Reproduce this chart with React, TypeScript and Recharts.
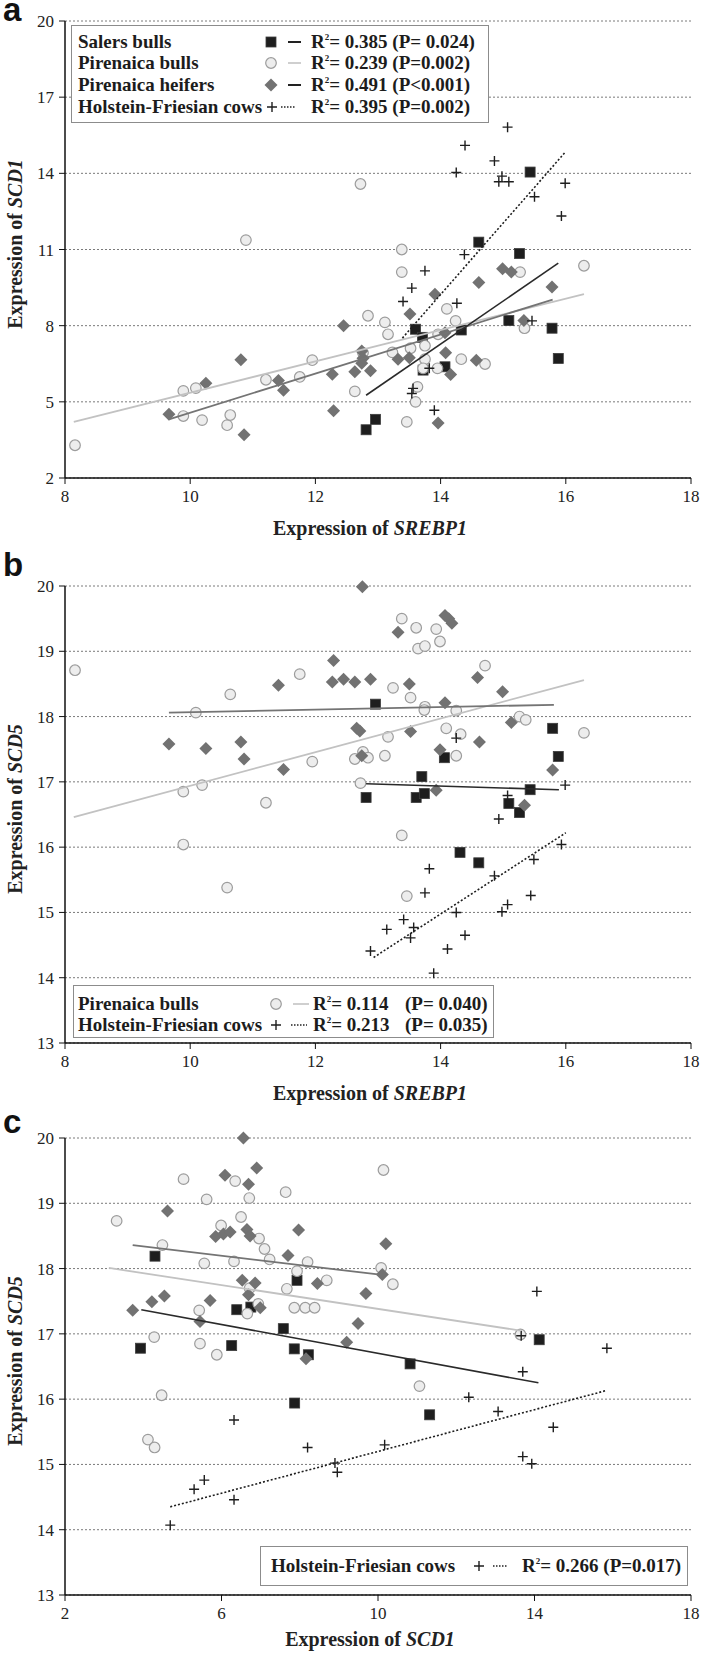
import React from "react";
import { CartesianGrid, Label, Scatter, ScatterChart, XAxis, YAxis } from "recharts";

type Pt = [number, number];

const SERIF = '"Liberation Serif", "Times New Roman", serif';
const SANS = '"Liberation Sans", Arial, sans-serif';

// ---- panel a: SREBP1 (x) vs SCD1 (y)
const A_SALERS: Pt[] = [
  [15.43, 14.05], [14.61, 11.29], [15.26, 10.84], [15.09, 8.2], [13.6, 7.86], [13.71, 7.54],
  [14.33, 7.83], [15.78, 7.9], [15.88, 6.71], [14.07, 6.38], [13.72, 6.25], [12.81, 3.9], [12.96, 4.31],
];
const A_BULLS: Pt[] = [
  [8.16, 3.29], [9.89, 5.43], [10.09, 5.54], [9.89, 4.44], [10.19, 4.28], [10.59, 4.08], [10.64, 4.48],
  [10.89, 11.37], [11.21, 5.87], [11.75, 5.98], [11.95, 6.64], [12.72, 13.58], [12.63, 5.41], [12.84, 8.39],
  [12.76, 6.93], [13.11, 8.13], [13.16, 7.66], [13.23, 6.95], [13.38, 11.0], [13.38, 10.11], [13.52, 7.11],
  [13.46, 4.21], [13.6, 5.0], [13.63, 5.59], [13.75, 7.21], [13.75, 6.68], [13.72, 6.32], [13.96, 7.66],
  [13.95, 6.32], [14.1, 8.66], [14.24, 8.19], [14.33, 6.68], [14.71, 6.49], [15.27, 10.11], [15.34, 7.9],
  [16.29, 10.36],
];
const A_HEIFERS: Pt[] = [
  [9.66, 4.51], [10.25, 5.73], [10.81, 6.66], [10.86, 3.7], [11.41, 5.84], [11.49, 5.46], [12.27, 6.09],
  [12.29, 4.65], [12.45, 8.0], [12.63, 6.18], [12.74, 7.0], [12.74, 6.52], [12.76, 6.72], [12.88, 6.22],
  [13.32, 6.68], [13.5, 6.74], [13.51, 8.46], [13.91, 9.24], [13.96, 4.17], [14.07, 7.72], [14.08, 6.93],
  [14.16, 6.08], [14.61, 9.7], [14.57, 6.64], [14.99, 10.24], [15.13, 10.11], [15.33, 8.2], [15.78, 9.52],
];
const A_COWS: Pt[] = [
  [15.07, 15.82], [14.39, 15.1], [14.86, 14.49], [14.25, 14.03], [14.98, 13.89], [14.93, 13.67],
  [15.09, 13.67], [15.5, 13.08], [15.99, 13.61], [15.93, 12.32], [14.38, 10.8], [13.75, 10.16],
  [13.54, 9.48], [13.4, 8.95], [14.26, 8.88], [15.46, 8.19], [13.82, 6.32], [13.56, 5.53], [13.54, 5.33],
  [13.9, 4.67],
];
const A_FIT_SALERS: Pt[] = [[12.81, 5.26], [15.88, 10.46]];
const A_FIT_BULLS: Pt[] = [[8.14, 4.21], [16.29, 9.24]];
const A_FIT_HEIFERS: Pt[] = [[9.66, 4.31], [15.79, 9.03]];
const A_FIT_COWS: Pt[] = [[13.39, 7.51], [15.98, 14.8]];

// ---- panel b: SREBP1 (x) vs SCD5 (y)
const B_SALERS: Pt[] = [
  [12.96, 18.19], [15.79, 17.82], [15.88, 17.39], [14.06, 17.37], [13.7, 17.08], [12.81, 16.76],
  [13.61, 16.76], [13.74, 16.82], [15.43, 16.88], [15.09, 16.67], [15.26, 16.53], [14.31, 15.92], [14.61, 15.76],
];
const B_BULLS: Pt[] = [
  [8.16, 18.71], [9.89, 16.85], [9.89, 16.04], [10.09, 18.06], [10.19, 16.95], [10.64, 18.34], [10.59, 15.38],
  [11.21, 16.68], [11.75, 18.65], [11.95, 17.31], [12.63, 17.35], [12.76, 17.46], [12.84, 17.37], [12.72, 16.98],
  [13.11, 17.4], [13.16, 17.69], [13.24, 18.44], [13.38, 19.5], [13.38, 16.18], [13.46, 15.25], [13.52, 18.29],
  [13.61, 19.36], [13.64, 19.04], [13.75, 19.08], [13.75, 18.15], [13.74, 18.1], [13.93, 19.34], [13.99, 19.15],
  [14.09, 17.82], [14.25, 18.09], [14.25, 17.4], [14.32, 17.73], [14.71, 18.78], [15.26, 18.0], [15.36, 17.95],
  [16.29, 17.75],
];
const B_HEIFERS: Pt[] = [
  [9.66, 17.58], [10.25, 17.51], [10.81, 17.61], [10.86, 17.35], [11.41, 18.48], [11.49, 17.19], [12.29, 18.86],
  [12.27, 18.53], [12.45, 18.57], [12.63, 18.53], [12.88, 18.57], [12.75, 19.99], [12.66, 17.82], [12.71, 17.78],
  [12.74, 17.4], [13.32, 19.29], [13.5, 18.5], [13.52, 17.77], [13.99, 17.49], [13.93, 16.87], [14.07, 19.55],
  [14.13, 19.5], [14.18, 19.43], [14.07, 18.21], [14.59, 18.6], [14.62, 17.61], [14.99, 18.38], [15.13, 17.91],
  [15.34, 16.64], [15.79, 17.18],
];
const B_COWS: Pt[] = [
  [15.99, 16.95], [15.07, 16.79], [14.25, 17.67], [14.93, 16.43], [15.93, 16.04], [15.49, 15.81], [13.82, 15.67],
  [14.86, 15.56], [13.75, 15.3], [15.44, 15.26], [15.07, 15.12], [14.98, 15.01], [14.25, 15.0], [13.41, 14.89],
  [13.14, 14.74], [13.57, 14.77], [13.52, 14.61], [14.39, 14.65], [14.11, 14.44], [12.88, 14.41], [13.89, 14.07],
];
const B_FIT_SALERS: Pt[] = [[12.81, 16.97], [15.89, 16.88]];
const B_FIT_BULLS: Pt[] = [[8.14, 16.46], [16.29, 18.56]];
const B_FIT_HEIFERS: Pt[] = [[9.66, 18.06], [15.81, 18.18]];
const B_FIT_COWS: Pt[] = [[12.93, 14.31], [16.0, 16.22]];

// ---- panel c: SCD1 (x) vs SCD5 (y)
const C_SALERS: Pt[] = [
  [4.3, 18.19], [7.93, 17.82], [6.39, 17.37], [6.75, 17.41], [7.58, 17.08], [3.93, 16.78], [6.26, 16.82],
  [7.86, 16.77], [8.22, 16.68], [10.82, 16.54], [14.12, 16.91], [7.87, 15.94], [11.32, 15.76],
];
const C_BULLS: Pt[] = [
  [3.32, 18.73], [5.03, 19.37], [6.35, 19.34], [6.71, 19.08], [5.62, 19.06], [7.64, 19.17], [10.14, 19.51],
  [6.5, 18.79], [5.99, 18.66], [4.49, 18.36], [6.96, 18.46], [7.1, 18.3], [7.23, 18.14], [5.56, 18.08],
  [6.32, 18.11], [8.2, 18.1], [7.93, 17.96], [10.08, 18.01], [10.38, 17.76], [8.69, 17.82], [7.67, 17.69],
  [6.72, 17.7], [5.43, 17.36], [6.94, 17.46], [6.66, 17.31], [7.86, 17.4], [8.14, 17.4], [8.38, 17.4],
  [4.28, 16.95], [5.45, 16.85], [5.88, 16.68], [4.47, 16.06], [4.12, 15.38], [4.29, 15.26], [11.06, 16.2],
  [13.64, 16.99],
];
const C_HEIFERS: Pt[] = [
  [3.73, 17.36], [4.22, 17.49], [4.54, 17.58], [4.62, 18.88], [5.45, 17.19], [5.71, 17.51], [5.85, 18.49],
  [6.05, 18.53], [6.22, 18.56], [6.09, 19.43], [6.56, 20.0], [6.69, 19.29], [6.9, 19.54], [6.65, 18.6],
  [6.73, 18.5], [6.53, 17.82], [6.69, 17.6], [6.86, 17.78], [6.99, 17.4], [7.7, 18.2], [7.97, 18.59],
  [8.45, 17.77], [8.16, 16.62], [9.2, 16.87], [9.49, 17.16], [9.69, 17.62], [10.11, 17.91], [10.2, 18.38],
];
const C_COWS: Pt[] = [
  [14.06, 17.65], [13.66, 16.97], [15.85, 16.78], [13.7, 16.42], [12.32, 16.03], [13.07, 15.81], [14.48, 15.57],
  [6.32, 15.68], [8.2, 15.26], [10.17, 15.3], [13.7, 15.12], [13.93, 15.01], [8.9, 15.02], [8.96, 14.88],
  [5.56, 14.76], [5.3, 14.62], [6.32, 14.46], [4.69, 14.07],
];
const C_FIT_SALERS: Pt[] = [[3.95, 17.37], [14.1, 16.25]];
const C_FIT_BULLS: Pt[] = [[3.12, 18.01], [13.64, 17.05]];
const C_FIT_HEIFERS: Pt[] = [[3.73, 18.36], [10.0, 17.91]];
const C_FIT_COWS: Pt[] = [[4.69, 14.35], [15.82, 16.13]];

// axes
const SREBP1_TICKS = [8, 10, 12, 14, 16, 18];
const SCD1_Y_TICKS = [2, 5, 8, 11, 14, 17, 20];
const SCD5_TICKS = [13, 14, 15, 16, 17, 18, 19, 20];
const SCD1_X_TICKS = [2, 6, 10, 14, 18];

const toPts = (a: Pt[]) => a.map(([x, y]) => ({ x, y }));

const SquareMark = (p: any) => (
  <rect x={p.cx - 5} y={p.cy - 5} width={10} height={10} fill="#1e1e1e" stroke="#3c3c3c" strokeWidth={0.8} />
);
const CircleMark = (p: any) => (
  <circle cx={p.cx} cy={p.cy} r={5.3} fill="#ededed" stroke="#9c9c9c" strokeWidth={1.2} />
);
const DiamondMark = (p: any) => (
  <path
    d={`M${p.cx},${p.cy - 6.5}L${p.cx + 6.5},${p.cy}L${p.cx},${p.cy + 6.5}L${p.cx - 6.5},${p.cy}Z`}
    fill="#727272"
  />
);
const CrossMark = (p: any) => (
  <path
    d={`M${p.cx - 5},${p.cy}H${p.cx + 5}M${p.cx},${p.cy - 5}V${p.cy + 5}`}
    stroke="#1e1e1e"
    strokeWidth={1.4}
  />
);
const NoMark = () => <g />;

const FIT_STYLE = {
  salers: { stroke: "#2a2a2a", strokeWidth: 1.6 },
  bulls: { stroke: "#c2c2c2", strokeWidth: 1.8 },
  heifers: { stroke: "#747474", strokeWidth: 1.8 },
  cows: { stroke: "#1e1e1e", strokeWidth: 1.6, strokeDasharray: "2 2" },
};

const TICK = { fontSize: 17, fontFamily: SERIF, fill: "#222" };
const AXIS_LINE = { stroke: "#111", strokeWidth: 1.5 };

function Panel({
  top,
  height,
  titleY,
  xDomain,
  xTicks,
  yDomain,
  yTicks,
  xGene,
  yGene,
  salers,
  bulls,
  heifers,
  cows,
  fits,
}: {
  top: number;
  height: number;
  titleY: number;
  xDomain: [number, number];
  xTicks: number[];
  yDomain: [number, number];
  yTicks: number[];
  xGene: string;
  yGene: string;
  salers: Pt[];
  bulls: Pt[];
  heifers: Pt[];
  cows: Pt[];
  fits: { salers: Pt[]; bulls: Pt[]; heifers: Pt[]; cows: Pt[] };
}) {
  // plot area always runs from y=21 to y=478 inside the chart
  const bottom = height - 30 - 478;
  return (
    <div style={{ position: "absolute", left: 0, top }}>
      <ScatterChart
        width={701}
        height={height}
        margin={{ top: 21, right: 10, bottom, left: 30 }}
        style={{ fontFamily: SERIF }}
      >
        <CartesianGrid horizontal vertical={false} stroke="#7a7a7a" strokeDasharray="2 2" />
        <XAxis
          type="number"
          dataKey="x"
          domain={xDomain}
          ticks={xTicks}
          height={30}
          tick={TICK}
          tickSize={6}
          tickMargin={6}
          axisLine={AXIS_LINE}
          tickLine={{ stroke: "#111" }}
        >
          <Label
            content={() => (
              <text x={370} y={titleY} textAnchor="middle" fontFamily={SERIF} fontWeight="bold" fontSize={20} fill="#222">
                Expression of <tspan fontStyle="italic">{xGene}</tspan>
              </text>
            )}
          />
        </XAxis>
        <YAxis
          type="number"
          dataKey="y"
          domain={yDomain}
          ticks={yTicks}
          width={35}
          tick={TICK}
          tickSize={6}
          tickMargin={5}
          axisLine={AXIS_LINE}
          tickLine={{ stroke: "#111" }}
        >
          <Label
            content={() => (
              <text
                transform="translate(22, 244) rotate(-90)"
                textAnchor="middle"
                fontFamily={SERIF}
                fontWeight="bold"
                fontSize={20}
                fill="#222"
              >
                Expression of <tspan fontStyle="italic">{yGene}</tspan>
              </text>
            )}
          />
        </YAxis>
        <Scatter data={toPts(salers)} shape={SquareMark} isAnimationActive={false} />
        <Scatter data={toPts(bulls)} shape={CircleMark} isAnimationActive={false} />
        <Scatter data={toPts(heifers)} shape={DiamondMark} isAnimationActive={false} />
        <Scatter data={toPts(cows)} shape={CrossMark} isAnimationActive={false} />
        <Scatter data={toPts(fits.bulls)} line={FIT_STYLE.bulls} shape={NoMark} isAnimationActive={false} />
        <Scatter data={toPts(fits.heifers)} line={FIT_STYLE.heifers} shape={NoMark} isAnimationActive={false} />
        <Scatter data={toPts(fits.salers)} line={FIT_STYLE.salers} shape={NoMark} isAnimationActive={false} />
        <Scatter data={toPts(fits.cows)} line={FIT_STYLE.cows} shape={NoMark} isAnimationActive={false} />
      </ScatterChart>
    </div>
  );
}

// ---- legend pieces (HTML overlay)
type Kind = "square" | "circle" | "diamond" | "cross";

function Icon({ kind, center }: { kind: Kind; center: number }) {
  return (
    <svg width={16} height={16} style={{ position: "absolute", left: center - 8, top: 3 }}>
      {kind === "square" && <SquareMark cx={8} cy={8} />}
      {kind === "circle" && <CircleMark cx={8} cy={8} />}
      {kind === "diamond" && <DiamondMark cx={8} cy={8} />}
      {kind === "cross" && <CrossMark cx={8} cy={8} />}
    </svg>
  );
}

function Seg({ from, to, color, dotted }: { from: number; to: number; color: string; dotted?: boolean }) {
  return (
    <svg width={to - from} height={4} style={{ position: "absolute", left: from, top: 9 }}>
      <line
        x1={0}
        y1={2}
        x2={to - from}
        y2={2}
        stroke={color}
        strokeWidth={dotted ? 1.3 : 2}
        strokeDasharray={dotted ? "1.5 1.5" : undefined}
      />
    </svg>
  );
}

function R2({ left, r, p }: { left: number; r: string; p?: string }) {
  return (
    <span style={{ position: "absolute", left, whiteSpace: "pre" }}>
      R<span style={{ fontSize: 9, position: "relative", top: -8 }}>2</span>= {r}
      {p ? ` (${p})` : ""}
    </span>
  );
}

function Row({ top, children }: { top: number; children: React.ReactNode }) {
  return (
    <div style={{ position: "absolute", left: 0, right: 0, top: top - 11, height: 22, lineHeight: "22px" }}>
      {children}
    </div>
  );
}

const legendBox = (left: number, top: number, width: number, height: number): React.CSSProperties => ({
  position: "absolute",
  left,
  top,
  width,
  height,
  boxSizing: "border-box",
  border: "1.5px solid #8c8c8c",
  background: "#fff",
  fontFamily: SERIF,
  fontWeight: "bold",
  fontSize: 19,
  color: "#1c1c1c",
});

function LegendA() {
  return (
    <div style={legendBox(71, 25, 418, 98)}>
      <Row top={16}>
        <span style={{ position: "absolute", left: 6 }}>Salers bulls</span>
        <Icon kind="square" center={199} />
        <Seg from={216} to={229} color="#222" />
        <R2 left={239} r="0.385" p="P= 0.024" />
      </Row>
      <Row top={37}>
        <span style={{ position: "absolute", left: 6 }}>Pirenaica bulls</span>
        <Icon kind="circle" center={199} />
        <Seg from={216} to={229} color="#cfcfcf" />
        <R2 left={239} r="0.239" p="P=0.002" />
      </Row>
      <Row top={59}>
        <span style={{ position: "absolute", left: 6 }}>Pirenaica heifers</span>
        <Icon kind="diamond" center={199} />
        <Seg from={216} to={229} color="#222" />
        <R2 left={239} r="0.491" p="P<0.001" />
      </Row>
      <Row top={81}>
        <span style={{ position: "absolute", left: 6 }}>Holstein-Friesian cows</span>
        <Icon kind="cross" center={200} />
        <Seg from={209} to={224} color="#222" dotted />
        <R2 left={239} r="0.395" p="P=0.002" />
      </Row>
    </div>
  );
}

function LegendB() {
  return (
    <div style={legendBox(73, 985, 421, 53)}>
      <Row top={18}>
        <span style={{ position: "absolute", left: 4 }}>Pirenaica bulls</span>
        <Icon kind="circle" center={202} />
        <Seg from={219} to={235} color="#cfcfcf" />
        <R2 left={239} r="0.114" />
        <span style={{ position: "absolute", left: 331 }}>(P= 0.040)</span>
      </Row>
      <Row top={39}>
        <span style={{ position: "absolute", left: 4 }}>Holstein-Friesian cows</span>
        <Icon kind="cross" center={202} />
        <Seg from={217} to={233} color="#222" dotted />
        <R2 left={239} r="0.213" />
        <span style={{ position: "absolute", left: 331 }}>(P= 0.035)</span>
      </Row>
    </div>
  );
}

function LegendC() {
  return (
    <div style={legendBox(260, 1546, 428, 40)}>
      <Row top={19}>
        <span style={{ position: "absolute", left: 10 }}>Holstein-Friesian cows</span>
        <Icon kind="cross" center={218} />
        <Seg from={232} to={247} color="#222" dotted />
        <R2 left={261} r="0.266" p="P=0.017" />
      </Row>
    </div>
  );
}

// panel letter: tight line box so the glyph sits flush with the top edge
function PanelLetter({ text, baseline }: { text: string; baseline: number }) {
  return (
    <div
      style={{
        position: "absolute",
        left: 3,
        top: baseline - 21,
        height: 20,
        lineHeight: "20px",
        fontFamily: SANS,
        fontWeight: "bold",
        fontSize: 33,
        color: "#111",
      }}
    >
      {text}
    </div>
  );
}

export default function App() {
  return (
    <div
      style={{
        position: "absolute",
        left: 0,
        top: 0,
        width: 701,
        height: 1653,
        overflow: "hidden",
        background: "#fff",
      }}
    >
      <Panel
        top={0}
        height={545}
        titleY={535}
        xDomain={[8, 18]}
        xTicks={SREBP1_TICKS}
        yDomain={[2, 20]}
        yTicks={SCD1_Y_TICKS}
        xGene="SREBP1"
        yGene="SCD1"
        salers={A_SALERS}
        bulls={A_BULLS}
        heifers={A_HEIFERS}
        cows={A_COWS}
        fits={{ salers: A_FIT_SALERS, bulls: A_FIT_BULLS, heifers: A_FIT_HEIFERS, cows: A_FIT_COWS }}
      />
      <Panel
        top={565}
        height={545}
        titleY={535}
        xDomain={[8, 18]}
        xTicks={SREBP1_TICKS}
        yDomain={[13, 20]}
        yTicks={SCD5_TICKS}
        xGene="SREBP1"
        yGene="SCD5"
        salers={B_SALERS}
        bulls={B_BULLS}
        heifers={B_HEIFERS}
        cows={B_COWS}
        fits={{ salers: B_FIT_SALERS, bulls: B_FIT_BULLS, heifers: B_FIT_HEIFERS, cows: B_FIT_COWS }}
      />
      <Panel
        top={1117}
        height={536}
        titleY={529}
        xDomain={[2, 18]}
        xTicks={SCD1_X_TICKS}
        yDomain={[13, 20]}
        yTicks={SCD5_TICKS}
        xGene="SCD1"
        yGene="SCD5"
        salers={C_SALERS}
        bulls={C_BULLS}
        heifers={C_HEIFERS}
        cows={C_COWS}
        fits={{ salers: C_FIT_SALERS, bulls: C_FIT_BULLS, heifers: C_FIT_HEIFERS, cows: C_FIT_COWS }}
      />
      <PanelLetter text="a" baseline={21} />
      <PanelLetter text="b" baseline={576} />
      <PanelLetter text="c" baseline={1133} />
      <LegendA />
      <LegendB />
      <LegendC />
    </div>
  );
}
